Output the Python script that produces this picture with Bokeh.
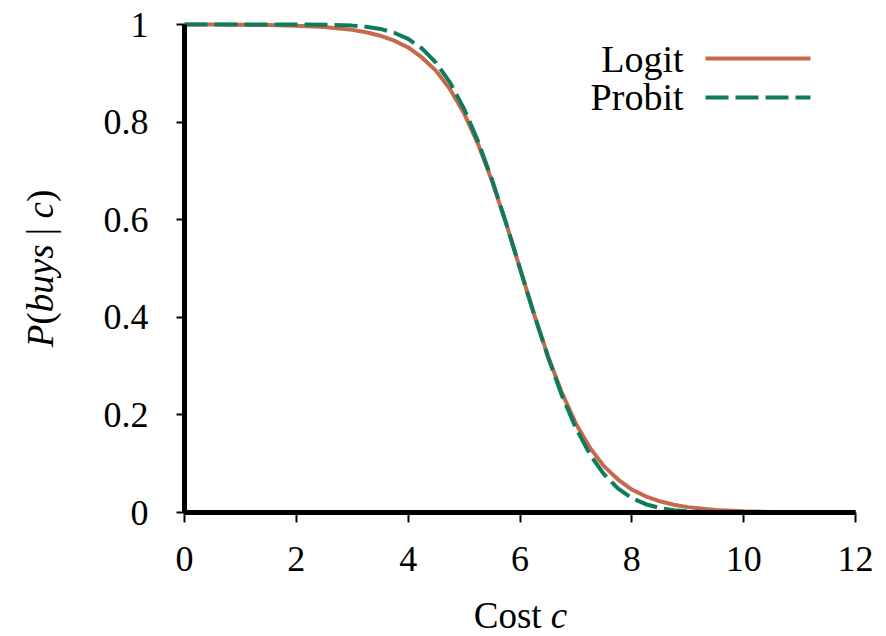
import math
from bokeh.plotting import figure
from bokeh.models import Label, Range1d, FixedTicker
from bokeh.embed import file_html
from bokeh.resources import INLINE

# ---- data ----
cost = [0, 0.5, 1, 1.5, 2, 2.5, 3, 3.25, 3.5, 3.75, 4, 4.25, 4.5, 4.75, 5, 5.25, 5.5, 5.75,
        6, 6.25, 6.5, 6.75, 7, 7.25, 7.5, 7.75, 8, 8.25, 8.5, 8.75, 9, 9.5, 10, 10.5, 11, 11.5, 12]
logit = [0.9999, 0.9998, 0.9994, 0.9988, 0.9975, 0.9948, 0.989, 0.984, 0.977, 0.967, 0.953, 0.932,
         0.905, 0.867, 0.818, 0.755, 0.679, 0.593, 0.500, 0.407, 0.321, 0.245, 0.182, 0.133, 0.095,
         0.068, 0.047, 0.033, 0.023, 0.016, 0.011, 0.005, 0.0025, 0.0012, 0.0006, 0.0003, 0.0001]
probit = [1, 1, 1, 1, 0.9999, 0.9995, 0.9977, 0.9953, 0.9909, 0.9831, 0.9704, 0.9506, 0.9215,
          0.8808, 0.8272, 0.7605, 0.6815, 0.5933, 0.5, 0.4067, 0.3185, 0.2395, 0.1728, 0.1192,
          0.0785, 0.0494, 0.0296, 0.0170, 0.0092, 0.0047, 0.0023, 0.0005, 0.0001, 0, 0, 0, 0]
x_ticks = [0, 2, 4, 6, 8, 10, 12]
y_ticks = [0, 0.2, 0.4, 0.6, 0.8, 1]
y_tick_labels = {0: "0", 0.2: "0.2", 0.4: "0.4", 0.6: "0.6", 0.8: "0.8", 1: "1"}
series_names = ["Logit", "Probit"]

LOGIT_COLOR = "#C56A4C"
PROBIT_COLOR = "#0F7A5C"
FONT = "Liberation Serif"
DASH = "23 7"

# ---- layout (pixels) ----
W, H = 880, 636
AX_LEFT, AX_RIGHT = 184, 855     # pixel of x=0 and x=XMAX
AX_TOP, AX_BOTTOM = 24, 512      # pixel of y=YMAX and y=0
XMAX, YMAX = 12, 1
ppx = (AX_RIGHT - AX_LEFT) / XMAX
ppy = (AX_BOTTOM - AX_TOP) / YMAX
def dx(px):
    return (px - AX_LEFT) / ppx
def dy(py):
    return (AX_BOTTOM - py) / ppy

p = figure(width=W, height=H, output_backend="svg", toolbar_location=None,
           x_range=Range1d(dx(0), dx(W)), y_range=Range1d(dy(H), dy(0)),
           min_border=0)
p.outline_line_color = None
p.grid.visible = False
p.background_fill_color = "white"
p.border_fill_color = "white"

for ax in (p.xaxis, p.yaxis):
    ax.fixed_location = 0
    ax.axis_line_width = 5
    ax.axis_line_color = "black"
    ax.major_tick_line_width = 2
    ax.major_tick_line_color = "black"
    ax.major_tick_in = 0
    ax.minor_tick_line_color = None
    ax.major_label_text_font = FONT
    ax.major_label_text_font_size = "36px"
    ax.major_label_text_color = "black"

p.xaxis.bounds = (0, XMAX)
p.xaxis.ticker = FixedTicker(ticks=x_ticks)
p.xaxis.major_tick_out = 10
p.xaxis.major_label_standoff = 24
p.yaxis.bounds = (0, YMAX)
p.yaxis.ticker = FixedTicker(ticks=y_ticks)
p.yaxis.major_label_overrides = y_tick_labels
p.yaxis.major_tick_out = 8
p.yaxis.major_label_standoff = 28

p.line(cost, logit, line_color=LOGIT_COLOR, line_width=4)
p.line(cost, probit, line_color=PROBIT_COLOR, line_width=4, line_dash=DASH)

# legend (labels left of samples)
leg_rows = [(58, 58, LOGIT_COLOR, None), (96, 97, PROBIT_COLOR, DASH)]
for name, (base, ly, col, dash) in zip(series_names, leg_rows):
    p.add_layout(Label(x=dx(683), y=dy(base), text=name, text_font=FONT,
                       text_font_size="38px", text_align="right",
                       text_baseline="alphabetic", text_color="black"))
    kw = dict(line_color=col, line_width=4)
    if dash:
        kw["line_dash"] = dash
    p.line([dx(705), dx(810)], [dy(ly), dy(ly)], **kw)

# axis titles with mixed italic
LS = 37
CW = {"P": 0.611, "(": 0.333, ")": 0.333, "b": 0.5, "u": 0.5, "y": 0.444, "s": 0.389,
      " ": 0.25, "|": 0.2, "c": 0.444, "C": 0.667, "o": 0.5, "t": 0.278}
def seg_width(text):
    return sum(CW.get(ch, 0.5) for ch in text) * LS

xlab = [("Cost ", False), ("c", True)]
total = sum(seg_width(t) for t, i in xlab)
cx = 520 - total / 2
for t, it in xlab:
    p.add_layout(Label(x=dx(cx), y=dy(615), text=t.strip(),
                       text_font=FONT, text_font_size=f"{LS}px",
                       text_font_style="italic" if it else "normal",
                       text_align="left", text_baseline="middle", text_color="black"))
    cx += seg_width(t)

ylab = [("P", True), ("(", False), ("buys", True), (" | ", False), ("c", True), (")", False)]
total = sum(seg_width(t) for t, i in ylab)
cy = 268 + total / 2
for t, it in ylab:
    lead = seg_width(t[:len(t) - len(t.lstrip())])
    p.add_layout(Label(x=dx(40), y=dy(cy - lead), text=t.strip(),
                       text_font=FONT, text_font_size=f"{LS}px",
                       text_font_style="italic" if it else "normal", angle=math.pi / 2,
                       text_align="left", text_baseline="middle", text_color="black"))
    cy -= seg_width(t)

open("out.html", "w").write(file_html(p, INLINE))
